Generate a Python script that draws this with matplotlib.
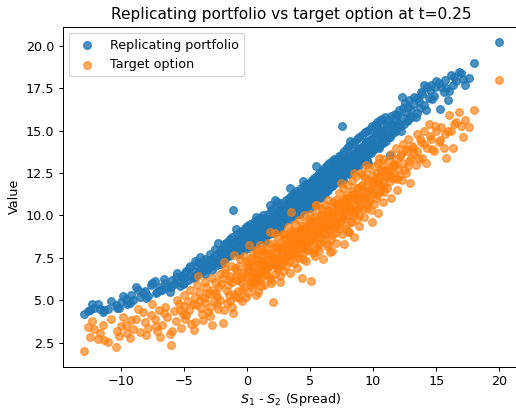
import matplotlib
matplotlib.use("Agg")
import matplotlib.pyplot as plt

# spread S1 - S2 for each simulated path (shared by both series)
spread = [
    -12.9, -12.4, -12.3, -12.1, -11.6, -11.3, -11.0,
    -10.4, -10.3, -10.0, -9.6, -9.5, -9.2, -9.0,
    -8.8, -8.5, -8.2, -8.1, -7.8, -7.6, -7.3, -7.1, -7.0,
    -6.9, -6.7, -6.5, -6.3, -6.0, -5.9, -5.8, -5.6, -5.4, -5.2, -5.1, -5.0,
    -4.9, -4.7, -4.6, -4.4, -4.2, -4.1, -4.0, -3.9, -3.8, -3.6, -3.5, -3.4, -3.3, -3.2, -3.1, -3.0,
    -2.95, -2.8, -2.7, -2.6, -2.5, -2.4, -2.3, -2.2, -2.1, -2.0,
    -1.9, -1.8, -1.7, -1.6, -1.5, -1.4, -1.3, -1.2, -1.1, -1.05,
    -0.95, -0.9, -0.8, -0.7, -0.6, -0.5, -0.4, -0.3, -0.2, -0.1, 0.0, 0.1,
    0.2, 0.3, 0.35, 0.4, 0.5, 0.6, 0.65, 0.7, 0.8, 0.85, 0.9, 0.95,
    1.0, 1.05, 1.1, 1.2, 1.3, 1.35, 1.4, 1.5, 1.55, 1.6, 1.7, 1.8, 1.85,
    1.9, 2.0, 2.1, 2.2, 2.3, 2.4, 2.5, 2.6, 2.7, 2.75, 2.8, 2.9, 2.95,
    3.0, 3.05, 3.1, 3.2, 3.25, 3.3, 3.4, 3.5, 3.55, 3.6, 3.7, 3.75, 3.8, 3.9,
    4.0, 4.05, 4.1, 4.2, 4.3, 4.35, 4.4, 4.5, 4.6, 4.65, 4.7, 4.8, 4.9, 4.95,
    5.0, 5.05, 5.1, 5.2, 5.25, 5.3, 5.4, 5.5, 5.55, 5.6, 5.7, 5.75, 5.8, 5.9,
    6.0, 6.05, 6.1, 6.2, 6.3, 6.35, 6.4, 6.5, 6.6, 6.65, 6.7, 6.8, 6.9, 6.95,
    7.0, 7.05, 7.1, 7.2, 7.3, 7.4, 7.5, 7.55, 7.6, 7.7, 7.8, 7.85, 7.9,
    8.0, 8.1, 8.2, 8.25, 8.3, 8.4, 8.5, 8.6, 8.7, 8.75, 8.8, 8.9, 8.95,
    9.0, 9.1, 9.2, 9.3, 9.4, 9.5, 9.6, 9.7, 9.8, 9.9, 10.0,
    10.1, 10.2, 10.3, 10.4, 10.5, 10.6, 10.7, 10.75, 10.8, 10.9, 10.95,
    11.1, 11.3, 11.4, 11.5, 11.7, 11.8, 11.9, 12.0,
    12.2, 12.3, 12.4, 12.6, 12.7, 12.8, 12.9, 13.0,
    13.2, 13.4, 13.5, 13.7, 13.9, 14.0, 14.2, 14.5, 14.7, 14.9,
    15.2, 15.3, 15.6, 15.8, 15.9, 16.2, 16.3, 16.6,
    17.0, 17.1, 17.6, 18.0, 20.0,
    # second batch of paths
    -12.6, -11.8, -11.4, -10.8, -10.1, -9.8, -9.3, -8.6, -8.0, -7.5, -7.2, -6.6, -6.1, -5.5, -5.3,
    -4.95, -4.8, -4.5, -4.3, -4.15, -3.95, -3.7, -3.55, -3.35, -3.15, -2.9, -2.75, -2.55,
    -2.35, -2.15, -2.05, -1.85, -1.75, -1.55, -1.45, -1.35, -1.25, -1.15, -1.0, -0.75,
    -0.65, -0.55, -0.45, -0.35, -0.25, -0.15, -0.05, 0.05, 0.15, 0.25, 0.45, 0.55, 0.75, 0.82,
    0.9, 1.02, 1.15, 1.25, 1.45, 1.65, 1.75, 1.95, 2.05, 2.15, 2.25, 2.35, 2.45, 2.55, 2.65,
    2.72, 2.85, 2.92, 0.0, 0.6, 1.3, 1.85, 2.2, 2.5, -0.85, 0.7,
    3.02, 3.12, 3.22, 3.32, 3.42, 3.52, 3.62, 3.72, 3.82, 3.92, 4.02, 4.12, 4.22, 4.32, 4.42,
    4.52, 4.62, 4.72, 4.82, 4.92, 5.02, 5.12, 5.22, 5.32, 5.42, 5.52, 5.62, 5.72, 5.82, 5.92,
    6.02, 6.12, 6.22, 6.32, 6.42, 6.52, 6.62, 6.72, 6.82, 6.92, 3.45, 4.45, 5.45, 6.45, 6.75,
    7.02, 7.12, 7.22, 7.32, 7.42, 7.52, 7.62, 7.72, 7.82, 7.92, 8.02, 8.12, 8.22, 8.32, 8.42,
    8.52, 8.62, 8.72, 8.82, 8.92, 9.02, 9.12, 9.22, 9.32, 9.42, 9.52, 9.62, 9.72, 9.82, 9.92,
    10.02, 10.12, 10.22, 10.32, 10.42, 10.52, 10.62, 10.72, 10.82, 10.92, 7.45, 8.45, 9.45, 10.45, 8.05,
    11.05, 11.2, 11.35, 11.45, 11.6, 11.75, 11.85, 12.05, 12.15, 12.35, 12.45, 12.55, 12.75,
    12.85, 13.05, 13.25, 13.45, 13.6, 13.8, 14.05, 14.25, 14.4, 14.6, 14.8, 14.95,
    15.4, 15.7, 16.0, 16.4, 16.8, 17.3,
    # third batch, core of the cloud
    0.08, 0.22, 0.38, 0.52, 0.68, 0.78, 0.92, 1.08, 1.18, 1.33, 1.48,
    1.62, 1.78, 1.88, 2.02, 2.18, 2.28, 2.42, 2.58, 2.68, 2.78, 2.88,
    3.08, 3.18, 3.28, 3.38, 3.48, 3.58, 3.68, 3.78, 3.88, 3.98, 4.08, 4.18, 4.28, 4.38, 4.48,
    4.58, 4.68, 4.78, 4.88, 4.98, 5.08, 5.18, 5.28, 5.38, 5.48, 5.58, 5.68, 5.78, 5.88, 5.98,
    6.08, 6.18, 6.28, 6.38, 6.48, 6.58, 6.68, 6.78, 6.88, 6.98, 7.08, 7.18, 7.28, 7.38, 7.48,
    7.58, 7.68, 7.78, 7.88, 7.98, 8.08, 8.18, 8.28, 8.38, 8.48, 8.58, 8.68, 8.78, 8.88, 8.98,
    9.08, 9.28, 9.48, 9.68, 9.88, 10.08, 10.28, 10.48, 10.68, 10.88,
    11.08, 11.28, 11.48, 11.68, 11.88,
]

# value of the target spread option
target = [
    2.0, 2.85, 3.8, 3.3, 3.05, 2.65, 2.55,
    2.25, 3.2, 3.45, 3.55, 3.05, 3.85, 3.3,
    3.9, 3.1, 4.3, 3.7, 3.35, 4.1, 3.9, 3.2, 4.45,
    2.85, 3.55, 4.6, 4.0, 2.35, 3.2, 4.35, 3.8, 4.8, 3.35, 4.2, 4.65,
    3.9, 4.95, 4.4, 3.6, 3.25, 5.2, 4.7, 6.4, 5.5, 4.55, 3.85, 5.1, 4.9, 5.8, 4.3, 5.35,
    4.6, 3.55, 5.6, 4.95, 6.1, 5.25, 4.5, 5.75, 5.0, 6.3,
    3.65, 7.25, 6.6, 4.85, 5.9, 5.3, 6.45, 4.6, 4.25, 7.65,
    6.9, 5.2, 6.2, 5.55, 7.0, 6.05, 4.95, 6.6, 5.8, 7.3, 6.35, 5.4,
    8.25, 6.1, 7.5, 5.75, 6.6, 7.15, 5.95, 6.45, 7.7, 5.5, 6.85, 6.2,
    8.25, 7.1, 6.3, 7.55, 6.75, 5.9, 7.35, 6.95, 8.0, 6.5, 7.7, 9.0, 7.05,
    6.2, 7.6, 4.9, 7.25, 8.2, 6.85, 7.5, 6.4, 8.45, 7.15, 7.85, 6.7, 8.0,
    7.4, 8.6, 7.0, 8.1, 7.65, 8.85, 6.6, 10.2, 7.95, 8.4, 7.2, 9.0, 7.75, 8.25,
    6.9, 8.7, 7.5, 9.1, 8.0, 6.3, 8.55, 7.85, 9.3, 8.3, 7.3, 8.9, 7.95, 9.55,
    8.5, 6.15, 9.2, 8.0, 9.6, 8.75, 7.6, 10.6, 9.0, 8.3, 9.45, 7.9, 9.85, 8.65,
    9.25, 7.4, 10.0, 8.9, 9.55, 8.2, 10.3, 9.1, 7.85, 9.75, 8.6, 10.5, 9.3, 8.95,
    10.1, 8.4, 9.65, 10.7, 9.2, 10.35, 8.9, 10.9, 9.85, 8.3, 10.5, 9.45, 11.2,
    10.0, 9.0, 10.75, 9.6, 11.45, 10.2, 8.75, 10.95, 9.8, 11.6, 10.4, 9.35, 11.1,
    10.6, 11.8, 12.4, 9.9, 11.3, 10.45, 12.1, 10.9, 11.55, 9.6, 11.75,
    10.7, 12.5, 11.2, 10.15, 12.2, 11.55, 12.9, 10.8, 11.95, 11.4, 12.65,
    11.6, 12.4, 11.0, 12.9, 12.2, 13.3, 11.5, 12.75,
    13.6, 12.1, 13.1, 12.5, 13.8, 12.9, 11.9, 13.4,
    14.0, 13.0, 13.8, 14.5, 13.4, 14.2, 13.1, 14.7, 13.9, 15.3,
    14.3, 14.45, 14.0, 13.4, 15.0, 15.0, 14.0, 15.5,
    15.3, 14.6, 15.2, 16.2, 18.0,
    # second batch of paths
    3.4, 2.7, 3.55, 3.9, 2.9, 4.0, 2.75, 4.5, 2.95, 4.8, 3.45, 4.25, 3.0, 5.0, 4.45,
    5.3, 4.15, 5.6, 4.8, 3.7, 5.9, 5.0, 4.2, 6.1, 5.45, 4.05, 6.3, 5.4,
    4.75, 6.55, 5.95, 4.4, 6.85, 5.55, 6.2, 4.95, 7.0, 6.05, 5.35, 6.75,
    5.1, 7.4, 6.3, 5.6, 7.6, 6.5, 5.2, 7.15, 6.7, 5.9, 7.7, 6.35, 5.3, 7.35,
    6.6, 8.0, 5.85, 7.2, 6.55, 8.4, 7.0, 6.0, 8.3, 7.45, 6.55, 8.75, 7.1, 8.1, 6.1,
    7.75, 8.9, 7.3, 7.0, 6.1, 7.9, 6.3, 8.95, 6.9, 6.4, 7.95,
    8.9, 7.6, 9.3, 8.2, 7.3, 9.1, 8.7, 7.7, 9.5, 8.5, 7.6, 9.75, 8.35, 9.2, 7.4,
    10.0, 8.8, 8.0, 9.7, 8.45, 10.1, 8.7, 7.8, 9.9, 9.2, 8.1, 10.3, 9.0, 8.4, 10.45,
    9.6, 8.6, 10.6, 9.35, 8.3, 10.15, 9.8, 8.85, 10.8, 9.55, 8.0, 9.4, 10.6, 10.9, 7.9,
    10.9, 9.4, 10.4, 11.3, 9.7, 10.8, 11.6, 10.2, 9.2, 11.0, 11.8, 10.5, 9.6, 12.0, 11.2,
    10.1, 12.3, 10.9, 11.6, 10.0, 12.5, 11.1, 10.4, 12.2, 11.7, 10.7, 12.8, 11.4, 10.3, 12.4,
    11.9, 12.9, 11.0, 12.2, 13.1, 11.4, 12.6, 11.8, 13.3, 12.3, 11.9, 12.5, 13.0, 13.4, 9.0,
    12.7, 13.2, 12.0, 13.6, 12.5, 13.0, 14.0, 12.3, 13.5, 14.2, 12.7, 13.9, 14.5,
    13.2, 14.1, 13.6, 14.8, 13.3, 14.3, 15.0, 14.0, 15.4, 14.5, 13.8, 15.0,
    15.2, 14.8, 15.9, 15.4, 16.1, 15.6,
    # third batch, core of the cloud
    6.85, 6.1, 7.3, 6.55, 6.95, 6.3, 7.4, 6.7, 7.3, 7.05, 7.8,
    6.85, 7.4, 7.8, 7.25, 8.1, 7.1, 7.85, 7.4, 8.1, 8.2, 7.45,
    8.65, 7.9, 8.25, 7.6, 8.7, 7.95, 8.55, 8.3, 9.0, 8.05, 8.55, 8.95, 8.4, 9.2, 8.2,
    8.95, 8.45, 9.15, 9.25, 8.5, 9.65, 8.9, 9.25, 8.6, 9.7, 8.95, 9.55, 9.3, 10.0, 9.05,
    9.55, 9.95, 9.4, 10.2, 9.2, 9.95, 9.45, 10.15, 10.25, 9.5, 10.65, 9.9, 10.25, 9.6, 10.7,
    9.95, 10.55, 10.3, 11.0, 10.05, 10.55, 10.95, 10.4, 11.25, 10.25, 11.0, 10.5, 11.2, 11.35, 10.6,
    11.75, 11.05, 11.45, 10.85, 12.05, 11.35, 12.0, 11.8, 12.6, 11.7,
    12.25, 12.7, 12.2, 13.05, 12.15,
]

# value of the replicating portfolio
replicating = [
    4.2, 4.45, 4.8, 4.55, 4.5, 4.4, 4.5,
    4.7, 4.55, 4.9, 5.05, 4.8, 5.3, 5.0,
    5.8, 5.2, 5.4, 5.55, 5.25, 5.9, 6.15, 5.5, 5.75,
    5.6, 5.6, 6.0, 5.75, 5.8, 6.2, 5.95, 6.35, 6.1, 6.45, 5.95, 6.3,
    6.6, 6.2, 6.9, 6.45, 6.7, 6.35, 7.1, 7.25, 6.6, 6.95, 6.75, 7.2, 6.55, 7.2, 6.9, 7.35,
    7.05, 6.8, 7.5, 7.2, 7.65, 7.1, 8.35, 7.4, 7.8, 7.35,
    7.7, 8.0, 7.55, 7.95, 8.25, 7.6, 8.1, 7.85, 10.3, 8.4,
    8.2, 7.9, 8.5, 8.1, 8.6, 7.95, 8.45, 8.8, 8.3, 8.65, 8.15, 8.9,
    8.5, 9.05, 8.6, 8.35, 9.2, 8.75, 8.55, 9.35, 8.9, 9.1, 8.7, 9.45,
    9.15, 9.6, 8.95, 9.4, 9.05, 9.7, 9.25, 9.85, 9.35, 9.0, 9.55, 10.6, 9.3,
    9.75, 9.5, 9.9, 9.35, 10.1, 10.8, 9.6, 9.9, 10.25, 9.7, 10.4, 9.95, 10.15,
    10.3, 9.85, 10.55, 10.0, 10.75, 10.2, 10.45, 10.9, 10.1, 10.65, 10.35, 11.0, 10.5, 11.2,
    10.4, 10.8, 10.25, 11.3, 10.6, 10.95, 10.45, 11.45, 10.75, 11.1, 11.6, 10.85, 11.25, 11.7,
    10.9, 11.35, 11.8, 11.1, 11.55, 12.05, 10.7, 11.4, 11.9, 11.25, 12.2, 11.6, 11.35, 12.4,
    11.75, 12.0, 11.5, 12.55, 11.85, 12.25, 11.65, 12.7, 12.05, 12.45, 11.9, 12.85, 12.3, 12.6,
    12.15, 12.7, 12.4, 13.0, 12.35, 12.85, 15.25, 12.6, 13.2, 12.75, 13.35, 12.9, 12.55,
    13.1, 13.5, 14.4, 12.95, 13.3, 13.65, 13.05, 13.45, 13.8, 13.2, 13.6, 14.0, 13.35,
    13.7, 13.4, 14.1, 13.85, 14.3, 13.6, 13.1, 14.45, 14.0, 14.25, 14.6,
    14.15, 14.8, 15.2, 14.35, 14.7, 14.5, 15.0, 14.25, 15.35, 14.65, 14.9,
    15.1, 13.55, 15.4, 14.9, 15.6, 15.2, 15.9, 15.45,
    15.0, 17.0, 15.75, 16.1, 15.55, 16.4, 15.85, 16.2,
    16.55, 15.8, 16.9, 16.35, 17.15, 17.7, 16.2, 17.4, 16.85, 17.6,
    17.8, 16.3, 17.25, 17.5, 16.8, 18.3, 17.7, 17.95,
    18.4, 18.05, 18.1, 19.0, 20.2,
    # second batch of paths
    4.35, 4.75, 4.3, 4.95, 4.55, 5.25, 4.85, 5.6, 5.1, 6.0, 5.45, 6.25, 5.5, 6.6, 5.85,
    6.0, 6.75, 7.0, 6.3, 7.3, 6.55, 7.55, 6.8, 7.45, 6.85, 7.7, 7.0, 8.0,
    7.25, 7.95, 7.15, 8.3, 7.45, 8.45, 7.65, 8.6, 7.8, 8.7, 7.95, 8.9,
    7.75, 9.0, 8.05, 9.1, 8.25, 9.25, 8.0, 9.3, 8.2, 9.5, 8.45, 9.6, 8.35, 9.75,
    8.55, 9.85, 8.7, 10.0, 8.5, 10.1, 8.9, 10.3, 9.0, 10.45, 9.15, 10.2, 9.3, 10.6, 9.4,
    10.75, 9.55, 10.5, 9.4, 9.0, 8.6, 9.65, 10.9, 9.1, 9.2, 9.9,
    9.7, 10.9, 9.9, 11.0, 10.15, 11.15, 9.95, 11.3, 10.3, 11.45, 10.1, 11.4, 10.3, 11.6, 10.55,
    11.75, 10.4, 11.85, 10.6, 11.9, 10.45, 12.1, 10.8, 12.2, 10.9, 12.35, 11.1, 12.5, 11.05, 12.6,
    11.2, 12.8, 11.35, 12.95, 11.5, 13.1, 11.65, 13.2, 11.8, 13.3, 11.6, 12.0, 12.9, 12.4, 12.0,
    11.9, 13.3, 12.1, 13.5, 12.2, 13.6, 12.4, 13.8, 12.5, 13.95, 12.6, 14.1, 12.8, 14.2, 12.9,
    14.35, 13.0, 14.5, 13.15, 14.6, 13.3, 14.75, 13.2, 14.9, 13.45, 15.0, 13.6, 15.1, 13.7, 15.25,
    13.85, 15.35, 14.0, 15.5, 14.05, 15.6, 14.2, 15.7, 14.3, 15.8, 13.0, 13.7, 14.3, 14.9, 13.4,
    14.4, 15.6, 14.6, 15.85, 14.85, 16.0, 15.0, 16.2, 15.25, 16.35, 15.4, 16.6, 15.65,
    16.8, 15.8, 17.0, 16.05, 16.75, 17.3, 16.5, 17.55, 16.9, 17.7, 17.05, 17.9,
    17.55, 18.0, 17.35, 18.15, 18.45, 17.7,
    # third batch, core of the cloud
    8.25, 9.0, 8.2, 8.95, 8.75, 9.4, 8.55, 9.35, 8.9, 9.7, 8.8,
    9.4, 9.15, 9.8, 8.95, 9.75, 10.1, 9.4, 10.2, 9.35, 10.1, 9.85,
    10.25, 10.0, 10.65, 9.8, 10.55, 10.1, 10.9, 10.0, 10.6, 10.3, 10.95, 10.1, 10.85, 11.2, 10.5,
    11.25, 10.4, 11.2, 10.95, 11.6, 10.75, 11.5, 11.05, 11.9, 10.95, 11.55, 11.25, 11.9, 11.1, 11.85,
    12.2, 11.5, 12.25, 11.45, 12.2, 11.95, 12.6, 11.75, 12.55, 12.1, 12.9, 11.95, 12.55, 12.3, 12.95,
    12.1, 12.85, 13.2, 12.55, 13.3, 12.45, 13.2, 12.95, 13.65, 12.8, 13.55, 13.1, 13.9, 13.0, 13.6,
    13.3, 14.05, 13.25, 14.1, 14.5, 13.9, 14.75, 13.95, 14.8, 14.6,
    15.35, 14.6, 15.4, 15.05, 15.9,
]

fig = plt.figure(figsize=(516 / 92, 408 / 92), dpi=92)
# the original image is cut on the right, so the axes run past the edge
ax = fig.add_axes([63 / 516, 41.5 / 408, 470 / 516, 339.5 / 408])

ax.scatter(spread, replicating, alpha=0.8, label="Replicating portfolio")
ax.scatter(spread, target, alpha=0.65, label="Target option")
ax.set_xlim(-14.57, 22.67)

ax.set_title("Replicating portfolio vs target option at t=0.25", x=0.485)
ax.set_xlabel("$S_1$ - $S_2$ (Spread)", labelpad=2, x=0.485)
ax.set_ylabel("Value")
ax.legend(loc="upper left")

fig.savefig("out.png", dpi=92)
